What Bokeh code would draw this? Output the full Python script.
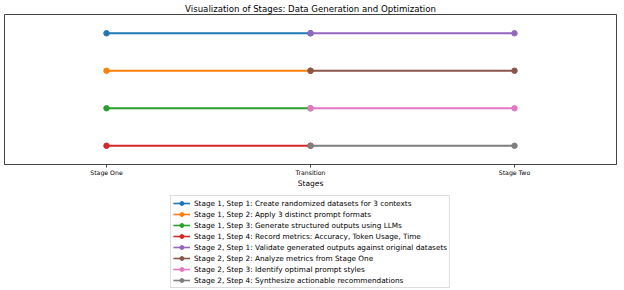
from bokeh.plotting import figure
from bokeh.models import Legend, LegendItem, FactorRange, Range1d
from bokeh.layouts import column
from bokeh.embed import file_html
from bokeh.resources import INLINE

stages = ["Stage One", "Transition", "Stage Two"]
stage1_steps = [
    "Stage 1, Step 1: Create randomized datasets for 3 contexts",
    "Stage 1, Step 2: Apply 3 distinct prompt formats",
    "Stage 1, Step 3: Generate structured outputs using LLMs",
    "Stage 1, Step 4: Record metrics: Accuracy, Token Usage, Time",
]
stage2_steps = [
    "Stage 2, Step 1: Validate generated outputs against original datasets",
    "Stage 2, Step 2: Analyze metrics from Stage One",
    "Stage 2, Step 3: Identify optimal prompt styles",
    "Stage 2, Step 4: Synthesize actionable recommendations",
]
levels = [4, 3, 2, 1]
stage1_colors = ["#1f77b4", "#ff7f0e", "#2ca02c", "#d62728"]
stage2_colors = ["#9467bd", "#8c564b", "#e377c2", "#7f7f7f"]

FONT = "DejaVu Sans"

p = figure(
    x_range=FactorRange(*stages, range_padding=0),
    y_range=Range1d(0.5, 4.5),
    width=624, height=190,
    output_backend="svg", toolbar_location=None,
    title="Visualization of Stages: Data Generation and Optimization",
    min_border_left=4, min_border_right=8, min_border_top=1, min_border_bottom=0,
)
p.title.align = "center"
p.title.text_font = FONT
p.title.text_font_size = "8.6px"
p.title.text_font_style = "normal"
p.title.text_color = "#000000"
p.title.standoff = 2

p.xgrid.visible = False
p.ygrid.visible = False
p.yaxis.visible = False
p.outline_line_color = "#444444"
p.outline_line_width = 1

ax = p.xaxis[0]
ax.axis_label = "Stages"
ax.axis_label_text_font = FONT
ax.axis_label_text_font_size = "7.5px"
ax.axis_label_text_font_style = "normal"
ax.axis_label_text_color = "#000000"
ax.axis_label_standoff = 0
ax.major_label_text_font = FONT
ax.major_label_text_font_size = "6.2px"
ax.major_label_text_color = "#000000"
ax.major_label_standoff = 1
ax.major_tick_out = 3
ax.major_tick_in = 0
ax.axis_line_color = "#444444"
ax.major_tick_line_color = "#444444"

# legend holder figure
p2 = figure(
    width=624, height=100, output_backend="svg", toolbar_location=None,
    x_range=Range1d(0, 1), y_range=Range1d(0, 1),
    min_border_left=0, min_border_right=0, min_border_top=0, min_border_bottom=0,
)
p2.axis.visible = False
p2.grid.visible = False
p2.outline_line_color = None

items = []
for steps, colors, xs in [(stage1_steps, stage1_colors, stages[0:2]),
                          (stage2_steps, stage2_colors, stages[1:3])]:
    for lab, lvl, col in zip(steps, levels, colors):
        ys = [lvl, lvl]
        p.line(xs, ys, line_color=col, line_width=2)
        p.scatter(xs, ys, fill_color=col, line_color=col, size=5.5)
        # proxy renderers (outside the visible range) for the legend below
        l1 = p2.line(x=[-5, -4], y=[-5, -4], line_color=col, line_width=1.6)
        l2 = p2.scatter(x=[-5], y=[-5], fill_color=col, line_color=col, size=5)
        items.append(LegendItem(label=lab, renderers=[l1, l2]))

legend = Legend(
    items=items, location="top_center", orientation="vertical",
    label_text_font=FONT, label_text_font_size="7.3px", label_text_color="#000000",
    label_height=10, glyph_height=10, glyph_width=17, spacing=1,
    padding=2, margin=5, label_standoff=4,
    border_line_color="#bbbbbb", border_line_width=1,
    background_fill_alpha=1.0,
)
p2.add_layout(legend)

layout = column(p, p2, spacing=0)
open("out.html", "w").write(file_html(layout, INLINE))
